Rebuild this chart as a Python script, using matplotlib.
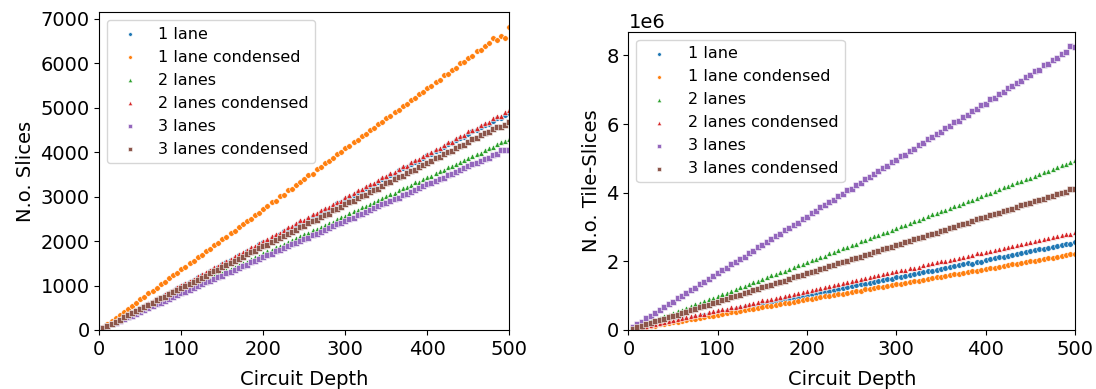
import matplotlib
matplotlib.use("Agg")
import matplotlib.pyplot as plt
import numpy as np

depth = list(range(5, 505, 5))

labels = ["1 lane", "1 lane condensed", "2 lanes", "2 lanes condensed", "3 lanes", "3 lanes condensed"]
colors = ["#1f77b4", "#ff7f0e", "#2ca02c", "#d62728", "#9467bd", "#8c564b"]
markers = ["o", "o", "^", "^", "s", "s"]

# ---- Left panel: N.o. Slices ----
slices_1 = [50, 95, 150, 200, 240, 300, 340, 395, 445, 490, 545, 585, 640, 690, 730, 790, 835, 880, 940, 985,
            1030, 1080, 1125, 1185, 1230, 1270, 1330, 1380, 1420, 1475, 1530, 1570, 1625, 1680, 1700, 1775, 1830, 1850, 1925, 1975,
            2010, 2070, 2120, 2150, 2220, 2265, 2300, 2370, 2420, 2440, 2505, 2560, 2590, 2660, 2710, 2730, 2800, 2850, 2880, 2950,
            3000, 3040, 3100, 3130, 3195, 3250, 3270, 3340, 3390, 3420, 3490, 3520, 3590, 3640, 3660, 3730, 3780, 3810, 3880, 3930,
            3970, 4030, 4060, 4120, 4180, 4200, 4270, 4320, 4350, 4420, 4470, 4490, 4560, 4620, 4640, 4710, 4760, 4780, 4840, 4880]
slices_1c = [70, 131, 210, 268, 345, 402, 480, 548, 603, 690, 742, 825, 880, 948, 1030, 1079, 1160, 1230, 1285, 1370,
             1420, 1505, 1555, 1650, 1690, 1770, 1830, 1915, 1960, 2050, 2100, 2190, 2230, 2320, 2375, 2460, 2505, 2590, 2640, 2730,
             2785, 2870, 2910, 3010, 3045, 3140, 3180, 3270, 3340, 3390, 3480, 3520, 3615, 3660, 3750, 3810, 3870, 3960, 3995, 4090,
             4140, 4230, 4265, 4370, 4410, 4500, 4540, 4640, 4680, 4770, 4820, 4910, 4945, 5050, 5080, 5180, 5230, 5310, 5350, 5450,
             5500, 5590, 5620, 5730, 5770, 5860, 5900, 6000, 6030, 6130, 6175, 6270, 6310, 6400, 6460, 6560, 6520, 6620, 6560, 6810]
slices_2 = [40, 85, 130, 170, 220, 255, 300, 345, 385, 435, 470, 520, 560, 600, 650, 690, 730, 780, 815, 865,
            900, 950, 990, 1030, 1080, 1120, 1155, 1210, 1250, 1285, 1340, 1380, 1410, 1470, 1510, 1540, 1600, 1640, 1670, 1730,
            1770, 1800, 1860, 1900, 1930, 1990, 2030, 2060, 2120, 2160, 2190, 2250, 2280, 2310, 2370, 2410, 2440, 2500, 2540, 2570,
            2630, 2670, 2700, 2760, 2800, 2830, 2890, 2930, 2960, 3020, 3060, 3080, 3140, 3190, 3210, 3270, 3320, 3340, 3400, 3440,
            3470, 3530, 3570, 3600, 3660, 3700, 3730, 3790, 3830, 3860, 3920, 3960, 3990, 4050, 4090, 4120, 4180, 4220, 4250, 4290]
slices_2c = [55, 100, 155, 205, 250, 305, 350, 410, 455, 500, 560, 600, 655, 710, 745, 810, 860, 895, 960, 1010,
             1050, 1105, 1150, 1210, 1255, 1300, 1360, 1410, 1450, 1505, 1560, 1600, 1655, 1715, 1745, 1810, 1860, 1890, 1960, 2010,
             2045, 2110, 2160, 2190, 2260, 2310, 2340, 2410, 2465, 2480, 2550, 2600, 2630, 2700, 2750, 2770, 2840, 2890, 2910, 2990,
             3040, 3080, 3150, 3170, 3240, 3290, 3310, 3385, 3440, 3460, 3530, 3560, 3630, 3690, 3700, 3780, 3830, 3850, 3920, 3970,
             4000, 4080, 4100, 4160, 4230, 4240, 4310, 4370, 4390, 4470, 4510, 4540, 4610, 4660, 4680, 4760, 4810, 4820, 4900, 4960]
slices_3 = [40, 80, 125, 160, 205, 245, 290, 325, 370, 410, 450, 495, 530, 575, 610, 660, 700, 735, 780, 825,
            860, 900, 945, 980, 1030, 1070, 1100, 1150, 1190, 1225, 1275, 1310, 1350, 1400, 1430, 1470, 1520, 1560, 1590, 1645,
            1680, 1715, 1770, 1810, 1840, 1890, 1930, 1960, 2010, 2050, 2080, 2140, 2170, 2210, 2260, 2290, 2330, 2380, 2410, 2460,
            2500, 2530, 2590, 2620, 2660, 2710, 2740, 2780, 2830, 2860, 2910, 2950, 2980, 3040, 3070, 3100, 3160, 3190, 3230, 3280,
            3310, 3360, 3400, 3430, 3490, 3520, 3550, 3610, 3640, 3680, 3730, 3760, 3800, 3850, 3880, 3930, 3970, 4050, 4060, 4060]
slices_3c = [45, 95, 140, 190, 235, 285, 330, 380, 420, 475, 520, 570, 610, 665, 710, 750, 805, 850, 890, 950,
             990, 1040, 1080, 1135, 1180, 1220, 1275, 1320, 1360, 1420, 1460, 1500, 1560, 1605, 1640, 1700, 1745, 1780, 1840, 1890,
             1920, 1980, 2030, 2060, 2120, 2170, 2200, 2260, 2320, 2340, 2400, 2450, 2480, 2545, 2590, 2620, 2690, 2730, 2760, 2830,
             2880, 2900, 2970, 3020, 3040, 3110, 3150, 3180, 3250, 3300, 3320, 3390, 3440, 3460, 3530, 3580, 3600, 3670, 3720, 3750,
             3810, 3860, 3890, 3960, 4000, 4030, 4100, 4140, 4170, 4240, 4290, 4310, 4380, 4430, 4450, 4520, 4570, 4560, 4610, 4670]

# ---- Right panel: N.o. Tile-Slices (millions) ----
tiles_1 = [0.02, 0.05, 0.08, 0.10, 0.13, 0.15, 0.18, 0.20, 0.23, 0.25, 0.28, 0.31, 0.33, 0.36, 0.38, 0.41, 0.43, 0.46, 0.48, 0.51,
           0.53, 0.56, 0.59, 0.61, 0.64, 0.66, 0.69, 0.71, 0.74, 0.76, 0.79, 0.82, 0.84, 0.87, 0.89, 0.92, 0.94, 0.97, 0.99, 1.02,
           1.04, 1.07, 1.10, 1.12, 1.15, 1.17, 1.20, 1.22, 1.25, 1.27, 1.30, 1.33, 1.35, 1.38, 1.40, 1.43, 1.45, 1.48, 1.50, 1.53,
           1.55, 1.58, 1.61, 1.63, 1.66, 1.68, 1.71, 1.73, 1.76, 1.78, 1.81, 1.84, 1.86, 1.89, 1.91, 1.94, 1.92, 1.99, 1.97, 2.04,
           2.06, 2.09, 2.12, 2.14, 2.17, 2.19, 2.22, 2.24, 2.27, 2.29, 2.32, 2.35, 2.37, 2.40, 2.42, 2.45, 2.47, 2.51, 2.52, 2.56]
tiles_1c = [0.02, 0.04, 0.07, 0.09, 0.11, 0.13, 0.16, 0.18, 0.20, 0.22, 0.24, 0.27, 0.29, 0.31, 0.33, 0.36, 0.38, 0.40, 0.42, 0.44,
            0.47, 0.49, 0.51, 0.53, 0.56, 0.58, 0.60, 0.62, 0.64, 0.67, 0.69, 0.71, 0.73, 0.75, 0.78, 0.80, 0.82, 0.84, 0.86, 0.89,
            0.91, 0.93, 0.95, 0.98, 1.00, 1.02, 1.04, 1.06, 1.09, 1.11, 1.13, 1.15, 1.18, 1.20, 1.22, 1.24, 1.26, 1.29, 1.31, 1.33,
            1.35, 1.38, 1.40, 1.42, 1.44, 1.47, 1.49, 1.51, 1.53, 1.55, 1.58, 1.60, 1.62, 1.64, 1.67, 1.69, 1.71, 1.73, 1.75, 1.78,
            1.80, 1.82, 1.84, 1.86, 1.89, 1.91, 1.93, 1.95, 1.98, 2.00, 2.02, 2.04, 2.07, 2.09, 2.11, 2.13, 2.15, 2.18, 2.20, 2.22]
tiles_2 = [0.05, 0.10, 0.15, 0.20, 0.25, 0.29, 0.35, 0.40, 0.44, 0.50, 0.55, 0.59, 0.65, 0.69, 0.75, 0.79, 0.85, 0.89, 0.94, 0.99,
           1.04, 1.09, 1.14, 1.19, 1.24, 1.28, 1.34, 1.39, 1.43, 1.49, 1.53, 1.59, 1.63, 1.69, 1.73, 1.78, 1.84, 1.88, 1.93, 1.98,
           2.03, 2.08, 2.13, 2.17, 2.23, 2.28, 2.32, 2.38, 2.42, 2.48, 2.52, 2.58, 2.62, 2.67, 2.73, 2.77, 2.82, 2.87, 2.92, 2.97,
           3.02, 3.06, 3.12, 3.17, 3.21, 3.27, 3.31, 3.37, 3.41, 3.47, 3.51, 3.56, 3.61, 3.65, 3.71, 3.76, 3.80, 3.86, 3.91, 3.96,
           4.00, 4.06, 4.10, 4.16, 4.20, 4.25, 4.30, 4.35, 4.40, 4.44, 4.50, 4.55, 4.60, 4.64, 4.70, 4.74, 4.80, 4.84, 4.90, 4.95]
tiles_2c = [0.03, 0.06, 0.09, 0.11, 0.14, 0.17, 0.20, 0.23, 0.26, 0.29, 0.31, 0.34, 0.37, 0.40, 0.43, 0.46, 0.48, 0.52, 0.54, 0.57,
            0.60, 0.62, 0.66, 0.68, 0.71, 0.74, 0.77, 0.80, 0.83, 0.86, 0.88, 0.91, 0.94, 0.97, 1.00, 1.03, 1.05, 1.09, 1.11, 1.14,
            1.17, 1.19, 1.23, 1.25, 1.28, 1.31, 1.34, 1.37, 1.40, 1.43, 1.45, 1.48, 1.51, 1.54, 1.57, 1.60, 1.62, 1.66, 1.68, 1.71,
            1.74, 1.76, 1.80, 1.82, 1.85, 1.88, 1.91, 1.94, 1.97, 2.00, 2.02, 2.05, 2.08, 2.11, 2.14, 2.17, 2.19, 2.23, 2.25, 2.28,
            2.31, 2.33, 2.37, 2.39, 2.42, 2.45, 2.48, 2.51, 2.54, 2.57, 2.59, 2.62, 2.65, 2.68, 2.71, 2.74, 2.76, 2.80, 2.79, 2.85]
tiles_3 = [0.08, 0.17, 0.24, 0.34, 0.41, 0.50, 0.57, 0.67, 0.75, 0.82, 0.92, 0.98, 1.08, 1.16, 1.23, 1.33, 1.40, 1.50, 1.56, 1.66,
           1.74, 1.81, 1.91, 1.98, 2.08, 2.14, 2.24, 2.31, 2.41, 2.47, 2.57, 2.64, 2.74, 2.80, 2.90, 2.97, 3.07, 3.13, 3.24, 3.30,
           3.40, 3.46, 3.57, 3.63, 3.73, 3.79, 3.90, 3.96, 4.07, 4.12, 4.23, 4.29, 4.40, 4.45, 4.56, 4.62, 4.73, 4.78, 4.90, 4.95,
           5.06, 5.11, 5.23, 5.28, 5.39, 5.44, 5.56, 5.61, 5.72, 5.78, 5.89, 5.94, 6.05, 6.10, 6.22, 6.27, 6.39, 6.43, 6.55, 6.60,
           6.72, 6.76, 6.88, 6.93, 7.05, 7.10, 7.21, 7.26, 7.38, 7.42, 7.55, 7.59, 7.71, 7.75, 7.88, 7.92, 8.04, 8.09, 8.28, 8.26]
tiles_3c = [0.04, 0.08, 0.13, 0.16, 0.21, 0.25, 0.29, 0.33, 0.37, 0.41, 0.45, 0.50, 0.53, 0.58, 0.62, 0.66, 0.70, 0.74, 0.78, 0.83,
            0.86, 0.91, 0.95, 0.99, 1.03, 1.07, 1.11, 1.16, 1.19, 1.24, 1.27, 1.32, 1.36, 1.40, 1.44, 1.48, 1.53, 1.56, 1.61, 1.65,
            1.69, 1.73, 1.77, 1.81, 1.86, 1.89, 1.94, 1.98, 2.02, 2.06, 2.10, 2.14, 2.19, 2.22, 2.27, 2.30, 2.35, 2.39, 2.43, 2.47,
            2.51, 2.56, 2.59, 2.64, 2.68, 2.72, 2.76, 2.80, 2.84, 2.89, 2.92, 2.97, 3.01, 3.05, 3.09, 3.13, 3.17, 3.22, 3.25, 3.30,
            3.34, 3.38, 3.42, 3.46, 3.50, 3.54, 3.58, 3.63, 3.66, 3.71, 3.75, 3.79, 3.83, 3.87, 3.91, 3.95, 4.00, 4.03, 4.11, 4.12]

left_series = [slices_1, slices_1c, slices_2, slices_2c, slices_3, slices_3c]
right_series = [tiles_1, tiles_1c, tiles_2, tiles_2c, tiles_3, tiles_3c]

plt.rcParams['font.family'] = ['DejaVu Sans']

fig = plt.figure(figsize=(10.96, 3.89), dpi=100)
ax1 = fig.add_axes([0.0906, 0.1517, 0.3741, 0.8167])
ax2 = fig.add_axes([0.5734, 0.1517, 0.4074, 0.7668])

legend_sizes = {"o": 7, "^": 10, "s": 6}

def draw(ax, series, scale):
    for lab, col, mk, vals in zip(labels, colors, markers, series):
        ax.scatter(depth, np.asarray(vals) * scale, s=16, c=col, marker=mk,
                   edgecolors='white', linewidths=0.4, label=lab)
    ax.set_xlim(0, 500)
    ax.set_ylim(bottom=0)
    ax.set_xlabel("Circuit Depth", fontsize=14, labelpad=8)
    ax.tick_params(labelsize=14)
    leg = ax.legend(loc="upper left", fontsize=11.5, scatterpoints=1)
    for h, mk in zip(leg.legend_handles, markers):
        h.set_sizes([legend_sizes[mk]])

draw(ax1, left_series, 1)
ax1.set_ylabel("N.o. Slices", fontsize=14)
draw(ax2, right_series, 1e6)
ax2.set_ylabel("N.o. Tile-Slices", fontsize=14)
ax2.yaxis.get_offset_text().set_fontsize(14)

fig.savefig("out.png", dpi=100)
